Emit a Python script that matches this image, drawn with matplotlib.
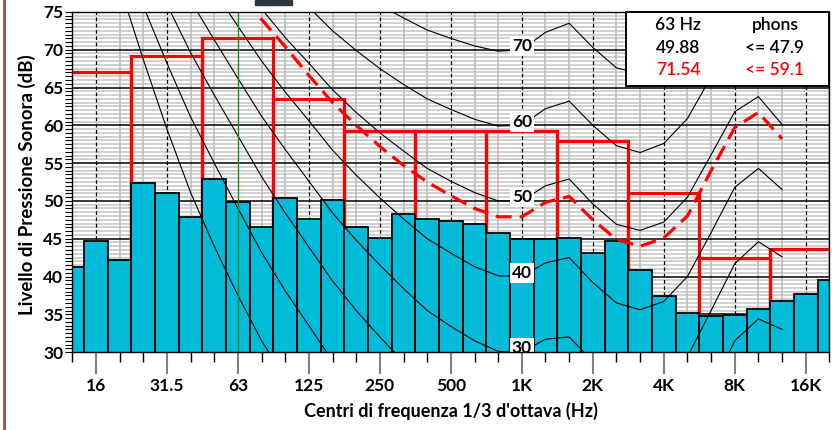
import matplotlib
matplotlib.use('Agg')
import matplotlib.pyplot as plt
from matplotlib.patches import Rectangle
import numpy as np

plt.rcParams['font.family'] = ['Lato', 'DejaVu Sans']

# ---------------- data ----------------
bands = ['12.5', '16', '20', '25', '31.5', '40', '50', '63', '80', '100', '125',
         '160', '200', '250', '315', '400', '500', '630', '800', '1K', '1.25K',
         '1.6K', '2K', '2.5K', '3.15K', '4K', '5K', '6.3K', '8K', '10K', '12.5K',
         '16K', '20K']
tick_bands = ['16', '31.5', '63', '125', '250', '500', '1K', '2K', '4K', '8K', '16K']
tick_labels = ['16', '31.5', '63', '125', '250', '500', '1K', '2K', '4K', '8K', '16K']

bar_levels = [41.2, 44.7, 42.2, 52.4, 51.0, 47.9, 52.9, 49.88, 46.6, 50.4, 47.6,
              50.1, 46.6, 45.1, 48.3, 47.6, 47.4, 47.0, 45.8, 44.9, 44.9,
              45.1, 43.1, 44.7, 40.8, 37.4, 35.2, 34.8, 34.9, 35.7, 36.7,
              37.7, 39.6]

octave_bands = ['16', '31.5', '63', '125', '250', '500', '1K', '2K', '4K', '8K', '16K']
octave_levels = [67.0, 69.2, 71.54, 63.5, 59.3, 59.3, 59.3, 57.9, 51.0, 42.5, 43.6]

# loudness curve of the spectrum (dashed red)
loud_start = '63'
loud_levels = [78.2, 74.0, 70.4, 66.6, 63.0, 60.0, 57.2, 54.7, 52.5, 50.7, 49.0,
               47.9, 47.9, 49.8, 50.6, 47.5, 44.9, 44.0, 45.1, 48.0, 54.0,
               59.7, 61.7, 58.2]

# equal-loudness contours (thin black)
thr_start = '20'
thr_levels = [78.5, 68.7, 59.5, 51.1, 44.0, 37.5, 31.5, 26.5, 22.1]
p10_start = '20'
p10_levels = [83.8, 75.8, 68.2, 61.1, 55.0, 49.0, 43.2, 38.1, 33.5, 28.8, 24.8]
p20_start = '20'
p20_levels = [89.6, 82.7, 76.0, 69.6, 64.0, 58.6, 53.2, 48.4, 43.9, 39.4, 35.5,
              32.0, 28.7, 25.7, 23.4, 21.5, 20.1, 20.0, 21.5, 21.4, 18.2, 15.4,
              14.3, 15.1, 18.6, 25.0, 31.5, 34.4, 33.0]
p30_start = '20'
p30_levels = [94.9, 88.5, 82.4, 76.5, 71.3, 66.2, 61.2, 56.8, 52.6, 48.4, 44.8,
              41.5, 38.4, 35.5, 33.4, 31.5, 30.1, 30.0, 31.7, 32.0, 28.8, 26.0,
              25.0, 26.0, 29.4, 35.5, 41.7, 44.6, 42.6]
p40_start = '20'
p40_levels = [99.9, 93.9, 88.2, 82.6, 77.8, 73.1, 68.5, 64.4, 60.6, 56.7, 53.4,
              50.4, 47.6, 45.0, 43.1, 41.3, 40.1, 40.0, 41.8, 42.5, 39.2, 36.5,
              35.6, 36.7, 40.0, 45.8, 51.8, 54.3, 51.5]
p50_start = '50'
p50_levels = [84.0, 79.6, 75.4, 71.6, 68.2, 64.7, 61.7, 59.0, 56.6, 54.3, 52.6,
              51.1, 50.0, 50.0, 52.0, 52.9, 49.6, 46.9, 46.1, 47.2, 50.5, 56.1,
              61.8, 63.8, 60.1]
p60_start = '100'
p60_levels = [78.7, 75.6, 72.5, 69.9, 67.5, 65.4, 63.5, 62.1, 60.8, 59.9, 60.0,
              62.2, 63.2, 60.0, 57.3, 56.4, 57.6, 60.9, 66.4, 71.7, 73.2, 68.6]
p70_start = '200'
p70_levels = [77.9, 75.9, 74.2, 72.6, 71.5, 70.5, 69.8, 70.0, 72.3, 73.5, 70.3,
              67.6, 66.8, 68.0, 71.3, 76.6, 81.5]
contour_label_band = '1K'
contour_label_values = [30, 40, 50, 60, 70]

sel_band = '63'
sel_freq_text = '63 Hz'
sel_bar_value = '49.88'
sel_oct_value = '71.54'
phon_bar = '<= 47.9'
phon_oct = '<= 59.1'

# ---------------- figure ----------------
W, H = 832, 430
fig = plt.figure(figsize=(W / 100, H / 100), dpi=100)
ax = fig.add_axes([72.3 / W, (H - 352.1) / H, 757.1 / W, 340.2 / H])
ax.set_xlim(0, len(bands) - 1)
ax.set_ylim(30, 75)

idx = {b: i for i, b in enumerate(bands)}
major_idx = [idx[b] for b in tick_bands]

# grid
for v in np.arange(30, 75.01, 0.5):
    if abs(v % 5) > 1e-6:
        ax.axhline(v, color='#c4c4c4', lw=1.1, zorder=0.5)
for i in range(len(bands)):
    if i not in major_idx:
        ax.axvline(i, color='#bdbdbd', lw=1.2, zorder=0.55)
for v in range(30, 76, 5):
    ax.axhline(v, color='black', lw=1.1, zorder=0.6)
for i in major_idx:
    if bands[i] != sel_band:
        ax.axvline(i, color='black', lw=0.9, ls=(0, (3, 2)), zorder=0.7)

# octave limit rectangles
for b, lev in zip(octave_bands, octave_levels):
    c = idx[b]
    ax.add_patch(Rectangle((c - 1.5, 0), 3, lev, fill=False, edgecolor='#ff0000',
                           lw=2.3, zorder=1.5))

# bars
ax.bar(np.arange(len(bands)), bar_levels, width=1.0, color='#00bcd9',
       edgecolor='black', lw=1.3, zorder=2)

# contours
for st, vals in [(thr_start, thr_levels), (p10_start, p10_levels),
                 (p20_start, p20_levels), (p30_start, p30_levels),
                 (p40_start, p40_levels), (p50_start, p50_levels),
                 (p60_start, p60_levels), (p70_start, p70_levels)]:
    x = np.arange(idx[st], idx[st] + len(vals))
    ax.plot(x, vals, color='black', lw=0.8, zorder=3)

# selected frequency marker
ax.axvline(idx[sel_band], color='#1f8a1f', lw=1.0, zorder=3.5)

# loudness dashed curve
xl = np.arange(idx[loud_start], idx[loud_start] + len(loud_levels))
ax.plot(xl, loud_levels, color='#ff0000', lw=2.3, ls=(0, (5, 2.5)), zorder=4)

# contour labels
for v in contour_label_values:
    ax.text(idx[contour_label_band], v + 0.5, str(v), ha='center', va='center',
            fontsize=12.5, fontweight='bold', zorder=5, clip_on=True,
            bbox=dict(boxstyle='square,pad=0.12', fc='white', ec='none'))

# axes styling
for s in ax.spines.values():
    s.set_color('black')
    s.set_linewidth(1.0)
    s.set_zorder(6)
ax.set_xticks(major_idx)
ax.set_xticks([i for i in range(len(bands)) if i not in major_idx], minor=True)
ax.set_xticklabels(tick_labels, fontsize=12.5, fontweight='bold')
ax.tick_params(axis='x', which='major', length=16, width=1.5, color='#808080', pad=3)
ax.tick_params(axis='x', which='minor', length=7.5, width=1.0, color='black')
ax.set_yticks(range(30, 76, 5))
ax.set_yticks(np.arange(30, 75.01, 0.5), minor=True)
ax.set_yticklabels([str(v) for v in range(30, 76, 5)], fontsize=12.5, fontweight='bold')
ax.tick_params(axis='y', which='both', length=5, width=0.8, color='black', pad=1.5)

# legend box
ax.add_patch(Rectangle((0.731, 0.782), 0.269, 0.218, transform=ax.transAxes,
                       facecolor='white', edgecolor='black', lw=1.4, zorder=10,
                       clip_on=False))
lx1, lx2 = 0.800, 0.928
lfs = 12.5
ax.text(lx1, 0.9615, sel_freq_text, transform=ax.transAxes, ha='center', va='center',
        fontsize=lfs, fontweight='semibold', zorder=11)
ax.text(lx2, 0.9615, 'phons', transform=ax.transAxes, ha='center', va='center',
        fontsize=lfs, fontweight='semibold', zorder=11)
ax.text(lx1, 0.895, sel_bar_value, transform=ax.transAxes, ha='center', va='center',
        fontsize=lfs, fontweight='semibold', zorder=11)
ax.text(lx2, 0.895, phon_bar, transform=ax.transAxes, ha='center', va='center',
        fontsize=lfs, fontweight='semibold', zorder=11)
ax.text(lx1, 0.829, sel_oct_value, transform=ax.transAxes, ha='center', va='center',
        fontsize=lfs, fontweight='semibold', color='#ff0000', zorder=11)
ax.text(lx2, 0.829, phon_oct, transform=ax.transAxes, ha='center', va='center',
        fontsize=lfs, fontweight='semibold', color='#ff0000', zorder=11)

# axis titles
fig.text(27 / W, 1 - 185 / H, 'Livello di Pressione Sonora (dB)', rotation=90,
         ha='center', va='center', fontsize=13.5, fontweight='bold')
fig.text(451 / W, 1 - 411 / H, "Centri di frequenza 1/3 d'ottava (Hz)",
         ha='center', va='center', fontsize=13, fontweight='bold')

# decorations: left border strip and top swatch
fig.patches.append(Rectangle((3 / W, 0), 3 / W, 1, transform=fig.transFigure,
                             facecolor='#9a5b5b', edgecolor='none'))
fig.patches.append(Rectangle((255 / W, 1 - 5 / H), 37 / W, 5 / H, transform=fig.transFigure,
                             facecolor='#1e3d40', edgecolor='#333333', lw=1))

fig.savefig('out.png', dpi=100)
